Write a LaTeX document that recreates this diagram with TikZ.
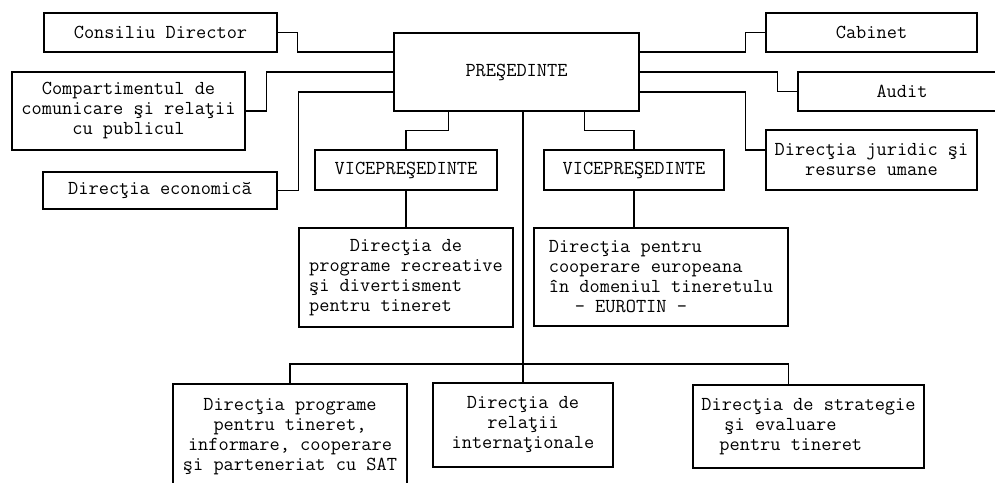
\documentclass[tikz,border=0pt]{standalone}

\begin{document}
\begin{tikzpicture}[x=1pt, y=-1pt,
  unit/.style={draw, line width=1.3pt, inner sep=0pt, align=center,
    font=\ttfamily\fontsize{19.8}{20}\selectfont},
  link/.style={line width=1.3pt}]
% Page size: one unit is one pixel of the scan
\useasboundingbox (0,0) rectangle (995,482);

% Top row: president and the units round it
\node[unit, minimum width=245, minimum height=78] (pres) at (516.5,72) {PREŞEDINTE};
\node[unit, minimum width=233, minimum height=39] (cons) at (160.5,32.5) {Consiliu Director};
\node[unit, minimum width=233, minimum height=78] (comp) at (128.5,111) {Compartimentul de\\comunicare şi relaţii\\cu publicul};
\node[unit, minimum width=234, minimum height=37] (econ) at (160,190.5) {Direcţia economică};
\node[unit, minimum width=211, minimum height=39] (cab) at (871.5,32.5) {Cabinet};
\node[unit, minimum width=208, minimum height=39] (audit) at (902,91.5) {Audit};
\node[unit, minimum width=211, minimum height=60] (jur) at (871.5,160) {Direcţia juridic şi\\resurse umane};

% Vice-presidents and their directorates
\node[unit, minimum width=182, minimum height=40] (vpl) at (406,170) {VICEPREŞEDINTE};
\node[unit, minimum width=180, minimum height=40] (vpr) at (634,170) {VICEPREŞEDINTE};
\node[unit, minimum width=214, minimum height=99, align=left] (recr) at (406,277.5) {\phantom{xxxx}Direcţia de\\programe recreative\\şi divertisment\\pentru tineret};
\node[unit, minimum width=254, minimum height=98, align=left] (coop) at (661,277) {Direcţia pentru\\cooperare europeana\\în domeniul tineretulu\\\hspace*{26pt}- EUROTIN -};

% Bottom row
\node[unit, minimum width=234, minimum height=106] (sat) at (290,437) {Direcţia programe\\pentru tineret,\\informare, cooperare\\şi parteneriat cu SAT};
\node[unit, minimum width=180, minimum height=84] (rel) at (523,425) {Direcţia de\\relaţii\\internaţionale};
\node[unit, minimum width=231, minimum height=83, align=left] (strat) at (808.5,426.5) {Direcţia de strategie\\\hspace*{23pt}şi evaluare\\\hspace*{18pt}pentru tineret};

% Connectors on the left
\draw[link] (cons.east) -- ++(20,0) |- ([yshift=20pt]pres.west);
\draw[link] (comp.east) -- ++(21,0) |- (pres.west);
\draw[link] (econ.east) -- ++(21,0) |- ([yshift=-20pt]pres.west);

% Connectors on the right
\draw[link] ([yshift=20pt]pres.east) -- ++(106,0) |- (cab.west);
\draw[link] (pres.east) -- ++(138,0) |- (audit.west);
\draw[link] ([yshift=-20pt]pres.east) -- ++(106,0) |- ([yshift=10pt]jur.west);

% Down to the vice-presidents
\draw[link] ([xshift=-68pt]pres.south) -- ++(0,19) -| (vpl.north);
\draw[link] ([xshift=68pt]pres.south) -- ++(0,19) -| (vpr.north);
\draw[link] (vpl.south) -- (recr.north);
\draw[link] (vpr.south) -- (vpr.south |- coop.north);

% Spine and bus to the bottom row
\coordinate (hub) at (523,364);
\draw[link] (pres.south -| hub) -- (rel.north);
\draw[link] (sat.north) |- (hub) -| ([xshift=-20pt]strat.north);
\end{tikzpicture}
\end{document}
